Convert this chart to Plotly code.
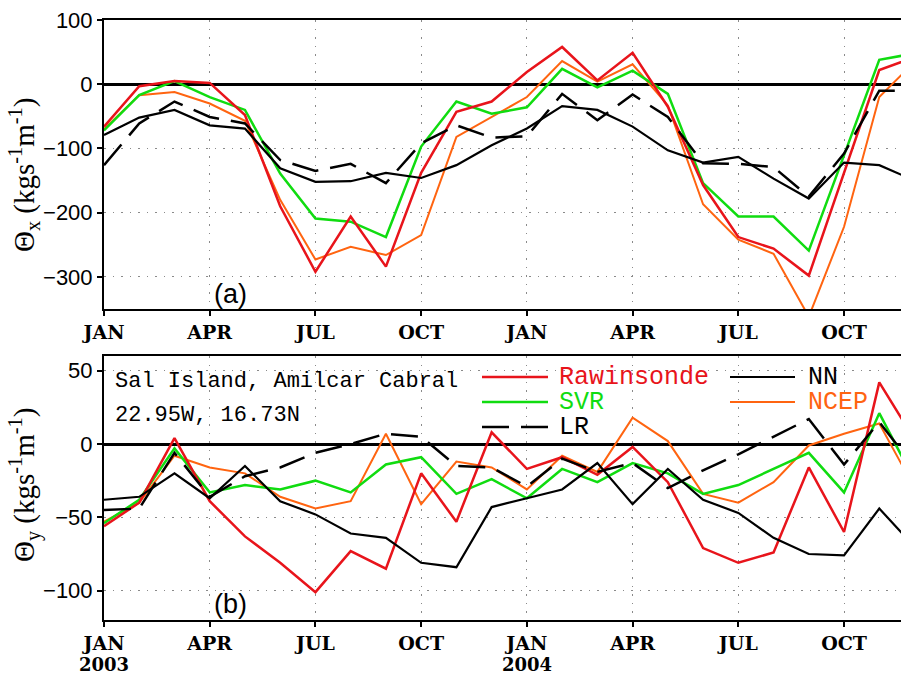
import plotly.graph_objects as go
from plotly.subplots import make_subplots

# ---- data ----
months = ["2003-01", "2003-02", "2003-03", "2003-04", "2003-05", "2003-06",
          "2003-07", "2003-08", "2003-09", "2003-10", "2003-11", "2003-12",
          "2004-01", "2004-02", "2004-03", "2004-04", "2004-05", "2004-06",
          "2004-07", "2004-08", "2004-09", "2004-10", "2004-11", "2004-12"]

tick_idx = [0, 3, 6, 9, 12, 15, 18, 21]
tick_text = ["JAN", "APR", "JUL", "OCT", "JAN", "APR", "JUL", "OCT"]
year_idx = [0, 12]
year_text = ["2003", "2004"]

# panel (a): Theta_x
raw_x = [-66, -3, 5, 2, -48, -190, -292, -206, -284, -138, -43, -27,
         19, 58, 6, 49, -35, -157, -238, -256, -298, -138, 22, 42]
svr_x = [-72, -17, 5, -20, -40, -139, -209, -214, -238, -97, -27, -46,
         -36, 24, -5, 21, -15, -154, -206, -206, -259, -112, 38, 48]
ncep_x = [-70, -17, -12, -30, -57, -180, -273, -253, -266, -235, -82, -51,
          -20, 36, 4, 31, -33, -187, -242, -264, -362, -222, -20, 35]
nn_x = [-79, -52, -40, -64, -69, -131, -152, -151, -138, -146, -126, -95,
        -69, -34, -40, -66, -103, -122, -113, -147, -178, -122, -126, -150]
lr_x = [-126, -61, -27, -51, -61, -118, -135, -124, -154, -92, -64, -83,
        -81, -15, -56, -16, -51, -123, -124, -129, -175, -108, -10, -10]

# panel (b): Theta_y
raw_y = [-56, -40, 4, -39, -63, -81, -101, -73, -85, -20, -53, 8,
         -17, -9, -21, -2, -26, -71, -81, -74, -16, -60, 42, 3]
svr_y = [-54, -38, -3, -33, -28, -31, -25, -33, -14, -9, -34, -24,
         -37, -17, -26, -13, -20, -34, -28, -17, -6, -33, 21, -25]
ncep_y = [-53, -40, -8, -16, -20, -36, -44, -39, 7, -41, -12, -16,
          -31, -8, -19, 18, 2, -34, -40, -26, -1, 7, 14, -30]
nn_y = [-38, -36, -20, -37, -15, -39, -48, -61, -64, -81, -84, -43,
        -37, -31, -13, -41, -17, -38, -47, -64, -75, -76, -44, -70]
lr_y = [-45, -44, -6, -36, -22, -16, -6, 0, 7, 5, -15, -16,
        -29, -10, -19, -13, -30, -18, -7, 5, 17, -14, 15, -16]

series_names = ["Rawinsonde", "SVR", "LR", "NN", "NCEP"]

# ---- style ----
RED = "#e8141b"
GREEN = "#10dc10"
ORANGE = "#ff6410"
BLACK = "#000000"
W, H = 901, 674
L = 104
PW = W - L

def px_x(p):
    return (p - L) / PW

def px_y(p):
    return (H - p) / H

x = list(range(len(months)))

fig = make_subplots(rows=2, cols=1)

styles = {
    "NCEP": dict(color=ORANGE, width=2),
    "SVR": dict(color=GREEN, width=2.5),
    "Rawinsonde": dict(color=RED, width=2.5),
    "LR": dict(color=BLACK, width=2.5, dash="27px,12px"),
    "NN": dict(color=BLACK, width=2.2),
}
data_a = {"Rawinsonde": raw_x, "SVR": svr_x, "LR": lr_x, "NN": nn_x, "NCEP": ncep_x}
data_b = {"Rawinsonde": raw_y, "SVR": svr_y, "LR": lr_y, "NN": nn_y, "NCEP": ncep_y}
order = ["NCEP", "SVR", "Rawinsonde", "LR", "NN"]
for r, d in ((1, data_a), (2, data_b)):
    for name in order:
        fig.add_trace(go.Scatter(x=x, y=d[name], mode="lines", name=name,
                                 line=styles[name], showlegend=False,
                                 hoverinfo="skip"), row=r, col=1)

GRID = dict(showgrid=True, gridcolor="#8a8a8a", griddash="1.5px,7px", gridwidth=1.2)
TICKFONT = dict(family="DejaVu Serif", size=19, color="black", weight="bold")

xcommon = dict(range=[0, (W - L) / 35.24], tickmode="array", tickvals=tick_idx,
               ticktext=tick_text,
               showline=True, linecolor="black", linewidth=2, mirror=True,
               ticks="outside", ticklen=5, tickwidth=1.5, tickcolor="black",
               zeroline=False, automargin=False, **GRID, tickfont=TICKFONT)
fig.update_xaxes(**xcommon, row=1, col=1)
fig.update_xaxes(**xcommon, row=2, col=1)

ycommon = dict(showline=True, linecolor="black", linewidth=2, mirror=False,
               ticks="outside", ticklen=5, tickwidth=1.5, tickcolor="black",
               zeroline=True, zerolinecolor="black", zerolinewidth=2.5,
               automargin=False, **GRID,
               tickfont=dict(family="Liberation Sans", size=22, color="black"))
fig.update_yaxes(**ycommon, range=[-350, 100], tickvals=[-300, -200, -100, 0, 100],
                 row=1, col=1)
fig.update_yaxes(**ycommon, range=[-120, 60], tickvals=[-100, -50, 0, 50],
                 row=2, col=1)

fig.update_layout(
    xaxis=dict(domain=[0, 1]), xaxis2=dict(domain=[0, 1]),
    yaxis=dict(domain=[px_y(309), px_y(20)]),
    yaxis2=dict(domain=[px_y(620), px_y(356)]),
)

ann = []
for xi, yt in zip(year_idx, year_text):
    ann.append(dict(x=xi, y=px_y(664), xref="x2", yref="paper", text=yt,
                    showarrow=False, font=dict(TICKFONT, size=18),
                    xanchor="center", yanchor="middle"))

ytitle_font = dict(family="Liberation Serif", size=29, color="black")
ann.append(dict(x=px_x(24), y=px_y(175), xref="paper", yref="paper",
                text="Θ<sub>x</sub> (kgs<sup>-1</sup>m<sup>-1</sup>)", textangle=-90,
                showarrow=False, font=ytitle_font, xanchor="center", yanchor="middle"))
ann.append(dict(x=px_x(24), y=px_y(485), xref="paper", yref="paper",
                text="Θ<sub>y</sub> (kgs<sup>-1</sup>m<sup>-1</sup>)", textangle=-90,
                showarrow=False, font=ytitle_font, xanchor="center", yanchor="middle"))
ann.append(dict(x=px_x(230), y=px_y(294), xref="paper", yref="paper", text="(a)",
                showarrow=False, font=dict(family="Liberation Sans", size=27, color="black"),
                xanchor="center", yanchor="middle"))
ann.append(dict(x=px_x(230), y=px_y(604), xref="paper", yref="paper", text="(b)",
                showarrow=False, font=dict(family="Liberation Sans", size=27, color="black"),
                xanchor="center", yanchor="middle"))
info_font = dict(family="Liberation Mono", size=22, color="black")
ann.append(dict(x=px_x(113), y=px_y(381), xref="paper", yref="paper",
                text="Sal Island, Amilcar Cabral", showarrow=False, font=info_font,
                xanchor="left", yanchor="middle"))
ann.append(dict(x=px_x(113), y=px_y(415), xref="paper", yref="paper",
                text="22.95W, 16.73N", showarrow=False, font=info_font,
                xanchor="left", yanchor="middle"))

# manual legend
legend_rows = [("Rawinsonde", 482, 548, 557, 377), ("SVR", 482, 548, 557, 402),
               ("LR", 482, 548, 557, 427), ("NN", 730, 795, 806, 377),
               ("NCEP", 730, 795, 806, 402)]
text_colors = {"Rawinsonde": RED, "SVR": GREEN, "LR": BLACK, "NN": BLACK, "NCEP": ORANGE}
shapes = []
for name, x0, x1, tx, yy in legend_rows:
    st = styles[name]
    shapes.append(dict(type="line", xref="paper", yref="paper",
                       x0=px_x(x0), x1=px_x(x1), y0=px_y(yy), y1=px_y(yy),
                       line=dict(color=st["color"], width=st["width"],
                                 dash=st.get("dash", "solid"))))
    ann.append(dict(x=px_x(tx), y=px_y(yy), xref="paper", yref="paper", text=name,
                    showarrow=False, xanchor="left", yanchor="middle",
                    font=dict(family="Liberation Mono", size=25, color=text_colors[name])))

fig.update_layout(width=W, height=H, margin=dict(l=L, r=0, t=0, b=0),
                  paper_bgcolor="white", plot_bgcolor="white",
                  annotations=ann, shapes=shapes, showlegend=False)

fig.write_html("out.html")
